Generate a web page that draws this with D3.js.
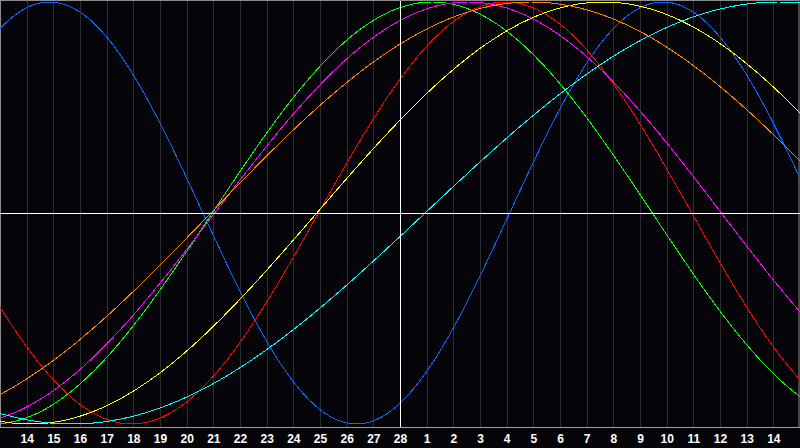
<!DOCTYPE html>
<html><head><meta charset="utf-8">
<script src="https://cdn.jsdelivr.net/npm/d3@7"></script>
<style>html,body{margin:0;padding:0;background:#050509;}svg{display:block;}</style>
</head><body>
<svg id="c" width="800" height="448"></svg>
<script>
// Day labels along the bottom (one per grid line)
const dayLabels = [14,15,16,17,18,19,20,21,22,23,24,25,26,27,28,1,2,3,4,5,6,7,8,9,10,11,12,13,14];
const todayIndex = 15; // "28" — the white vertical line
// Cycle series: period (days) and day position of the upward zero crossing (in grid units)
const seriesNames  = ["Physical","Emotional","Intellectual","Intuitive","Aesthetic","Awareness","Spiritual"];
const seriesPeriod = [23, 28, 33, 38, 43, 48, 53];
const seriesRise   = [-3.89, 11.94, 7.96, 8.05, 11.88, 7.91, 15.94];
const seriesColor  = ["#0a64ff","#ff0000","#00ff00","#ff00ff","#ffff00","#ff8000","#00ffff"];

const W = 800, H = 448;
const svg = d3.select("#c");
svg.append("rect").attr("width",W).attr("height",H).attr("fill","#050509");

const x = d3.scaleLinear().domain([0, 30]).range([0, 800]);
const y = d3.scaleLinear().domain([-1, 1]).range([424, 2]);

// vertical grid
const gridIdx = d3.range(1, dayLabels.length + 1);
svg.append("g").selectAll("line").data(gridIdx.filter(i => i !== todayIndex)).join("line")
  .attr("x1", d => Math.round(x(d)) + 0.5).attr("x2", d => Math.round(x(d)) + 0.5)
  .attr("y1", 1).attr("y2", 427)
  .attr("stroke", "#2e2e30").attr("stroke-width", 1);

// frame
svg.append("rect").attr("x",0.5).attr("y",0.5).attr("width",798.5).attr("height",427)
  .attr("fill","none").attr("stroke","#8c8c8c").attr("stroke-width",1);
svg.append("line").attr("x1",0).attr("x2",800).attr("y1",427.5).attr("y2",427.5)
  .attr("stroke","#a0a0a0").attr("stroke-width",1);

// curves
const samples = d3.range(0, 30.0001, 0.05);
const line = d3.line().x(d => x(d[0])).y(d => y(d[1]));
seriesPeriod.forEach((P, i) => {
  const pts = samples.map(t => [t, Math.sin(2 * Math.PI * (t - seriesRise[i]) / P)]);
  svg.append("path").datum(pts).attr("d", line)
    .attr("fill","none").attr("stroke", seriesColor[i]).attr("stroke-width", 1)
    .attr("shape-rendering","crispEdges");
});

// white center lines
svg.append("line").attr("x1",0).attr("x2",800).attr("y1",Math.round(y(0))+0.5).attr("y2",Math.round(y(0))+0.5)
  .attr("stroke","#ffffff").attr("stroke-width",1);
svg.append("line").attr("x1",Math.round(x(todayIndex))+0.5).attr("x2",Math.round(x(todayIndex))+0.5).attr("y1",1).attr("y2",427)
  .attr("stroke","#ffffff").attr("stroke-width",1);

// bottom labels via axis
const axis = d3.axisBottom(x).tickValues(gridIdx).tickFormat(d => dayLabels[d - 1]).tickSize(0).tickPadding(0);
const g = svg.append("g").attr("transform","translate(0,434)").call(axis);
g.select(".domain").remove();
g.selectAll("text").attr("fill","#ffffff").attr("font-family","'Liberation Sans', Arial, sans-serif")
  .attr("font-weight","bold").attr("font-size","12px").attr("dy","0.71em");
</script>
</body></html>
